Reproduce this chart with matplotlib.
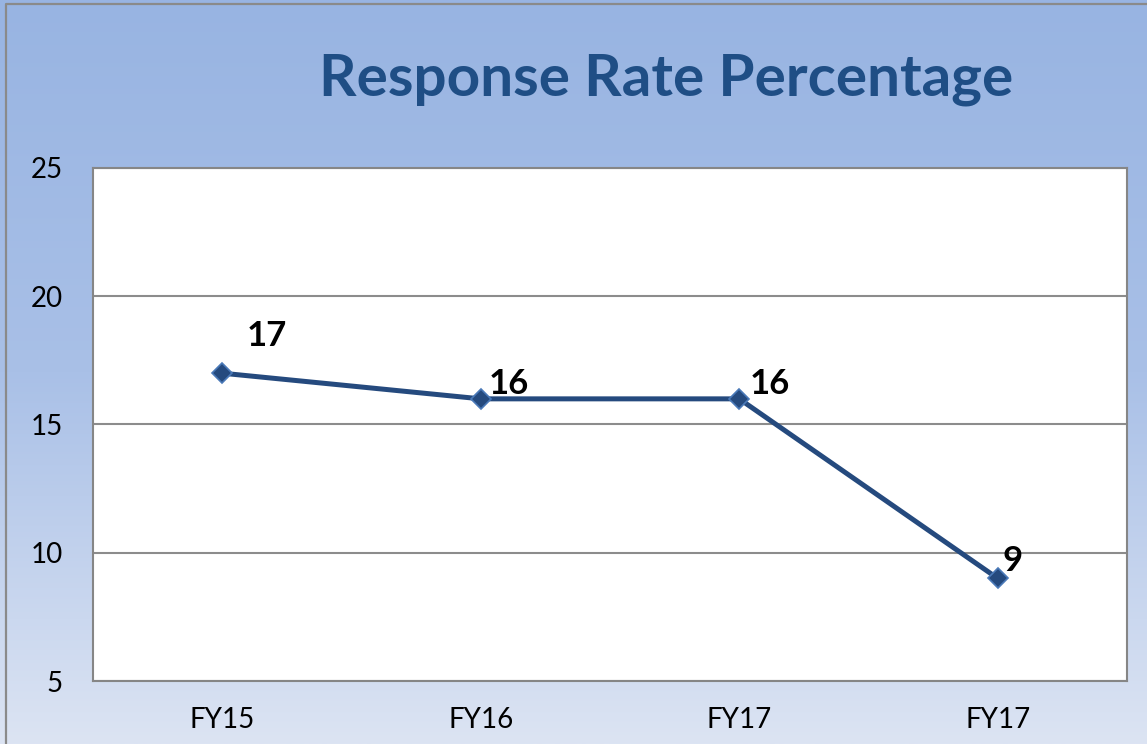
import numpy as np
import matplotlib
matplotlib.use('Agg')
import matplotlib.pyplot as plt
from matplotlib.colors import LinearSegmentedColormap

# data
categories = ['FY15', 'FY16', 'FY17', 'FY17']
response_rate = [17, 16, 16, 9]
y_ticks = [5, 10, 15, 20, 25]

# label offsets in points (dx, dy), roughly as in the original
label_offsets = [(32, 15), (20, -1), (22, -1), (11, 1)]

plt.rcParams['font.family'] = ['Lato', 'DejaVu Sans']

fig = plt.figure(figsize=(11.47, 7.44), dpi=100)

# gradient background + outer frame
bg = fig.add_axes([0, 0, 1, 1], zorder=0)
grad = LinearSegmentedColormap.from_list('bg', ['#98B4E2', '#A9C0E7', '#DCE4F3'])
bg.imshow(np.linspace(0, 1, 256).reshape(-1, 1), aspect='auto', cmap=grad,
          extent=[0, 1, 0, 1], origin='upper')
bg.plot([6 / 1147, 6 / 1147, 1.01], [-0.01, 1 - 4 / 744, 1 - 4 / 744],
        color='#8A8A8A', lw=1.6, transform=bg.transAxes, clip_on=False)
bg.set_xlim(0, 1); bg.set_ylim(0, 1)
bg.axis('off')

ax = fig.add_axes([93 / 1147, 1 - 681 / 744, (1127 - 93) / 1147, (681 - 168) / 744], zorder=1)
ax.set_facecolor('white')
x = np.arange(len(categories))
ax.plot(x, response_rate, color='#254A7E', lw=3.6, zorder=3,
        marker='D', markersize=10, markerfacecolor='#254A7E',
        markeredgecolor='#4A79B8', markeredgewidth=1.2)

for i, v in enumerate(response_rate):
    dx, dy = label_offsets[i]
    ax.annotate(f'{v}', (x[i], v), xytext=(dx, dy), textcoords='offset points',
                ha='center', va='bottom', fontsize=25, fontweight='bold', color='black', zorder=4)

ax.set_xlim(-0.5, len(categories) - 0.5)
ax.set_ylim(5, 25)
ax.set_yticks(y_ticks)
ax.set_xticks(x)
ax.set_xticklabels(categories)
ax.yaxis.grid(True, color='#8C8C8C', lw=1.5)
ax.set_axisbelow(True)
ax.tick_params(axis='both', length=0, labelsize=20, colors='black')
ax.tick_params(axis='y', pad=22)
ax.tick_params(axis='x', pad=19)
for s in ax.spines.values():
    s.set_color('#868686'); s.set_linewidth(1.5)

fig.text(666 / 1147, 1 - 80 / 744, 'Response Rate Percentage', ha='center', va='center',
         fontsize=42, fontweight='bold', color='#1F4E85')

fig.savefig('out.png', dpi=100)
